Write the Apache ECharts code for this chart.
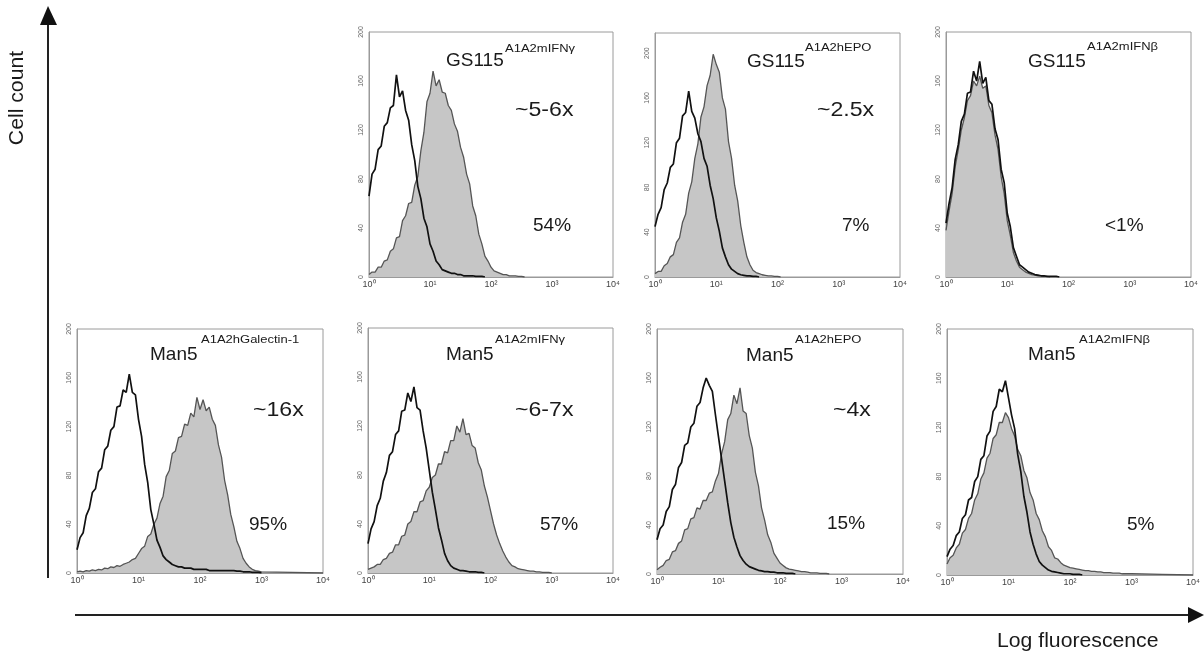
<!DOCTYPE html>
<html>
<head>
<meta charset="utf-8">
<script src="https://cdn.jsdelivr.net/npm/echarts@6/dist/echarts.min.js"></script>
<style>html,body{margin:0;padding:0;background:#fff}#c{width:1204px;height:656px}</style>
</head>
<body>
<div id="c"></div>
<script>
// ---------- DATA ----------
// bin positions in decades (log10 of fluorescence)
const logBins = [0,0.05,0.1,0.15,0.2,0.25,0.3,0.35,0.4,0.45,0.5,0.55,0.6,0.65,0.7,0.75,0.8,0.85,0.9,0.95,
  1,1.05,1.1,1.15,1.2,1.25,1.3,1.35,1.4,1.45,1.5,1.55,1.6,1.65,1.7,1.75,1.8,1.85,1.9,1.95,
  2,2.05,2.1,2.15,2.2,2.25,2.3,2.35,2.4,2.45,2.5,2.55,2.6,2.65,2.7,2.75,2.8,2.85,2.9,2.95,
  3,3.5,4];
const xTickExponents = [0,1,2,3,4];
const yTicks = [0,40,80,120,160,200];

// GS115 A1A2mIFNγ
const gsIfngControl = [66,84,88,104,107,123,126,138,140,165,147,152,136,128,108,95,74,64,48,41,
  27,21,13,10,6,5,4,3,3,2,2,1,1,1,1,0.5,0.5,0.5,0,0,
  0,0,0,0,0,0,0,0,0,0,0,0,0,0,0,0,0,0,0,0, 0,0,0];
const gsIfngSample = [2,4,4,8,8,13,14,21,23,32,33,46,50,60,61,75,82,103,118,143,
  150,168,156,161,151,150,140,136,125,119,106,98,84,76,58,50,35,27,17,13,
  8,5,4,3,2,2,1,1,1,0.5,0.5,0,0,0,0,0,0,0,0,0, 0,0,0];
// GS115 A1A2hEPO
const gsEpoControl = [45,56,62,78,84,98,101,120,124,144,147,166,148,142,128,121,106,99,82,70,
  53,41,26,18,11,7,5,3,2,1.5,1,1,0.5,0.5,0,0,0,0,0,0,
  0,0,0,0,0,0,0,0,0,0,0,0,0,0,0,0,0,0,0,0, 0,0,0];
const gsEpoSample = [3,5,5,10,12,18,20,31,35,49,56,75,85,106,119,143,152,171,180,199,
  190,183,160,150,121,106,82,68,46,31,18,11,6,4,3,2,1.5,1,1,0.5,
  0.5,0,0,0,0,0,0,0,0,0,0,0,0,0,0,0,0,0,0,0, 0,0,0];
// GS115 A1A2mIFNβ
const gsIfnbControl = [44,60,73,96,108,127,133,150,151,168,160,176,158,163,144,141,121,112,88,77,
  52,41,24,17,10,8,6,4,3,2,1.5,1,1,0.5,0.5,0.5,0.5,0,0,0,
  0,0,0,0,0,0,0,0,0,0,0,0,0,0,0,0,0,0,0,0, 0,0,0];
const gsIfnbSample = [38,54,68,90,104,120,130,144,148,160,156,164,154,156,140,134,116,104,82,68,
  46,34,20,13,8,6,4,3,2,1.5,1,1,0.5,0.5,0,0,0,0,0,0,
  0,0,0,0,0,0,0,0,0,0,0,0,0,0,0,0,0,0,0,0, 0,0,0];
// Man5 A1A2hGalectin-1
const manGalControl = [19,29,33,47,53,66,69,83,86,101,104,117,120,136,137,150,148,163,148,146,
  126,112,89,74,52,40,27,21,14,11,9,7,6,5,5,4,4,4,3,3,
  3,3,3,2,2,2,2,2,2,2,2,2,1.5,1.5,1,1,1,0.5,0.5,0.5, 0,0,0];
const manGalSample = [1,1.5,1,2,1.5,2.5,2,3,2.5,4,3.5,5,4.5,6,5.5,7,8,9,11,12,
  16,20,22,30,32,40,45,57,63,79,84,98,100,111,112,122,121,131,128,144,
  134,142,133,136,126,121,105,95,76,64,48,38,26,20,12,8,5,3,2,1.5, 1,0.5,0];
// Man5 A1A2mIFNγ
const manIfngControl = [24,36,42,55,61,75,82,96,99,113,116,132,133,147,140,152,135,133,116,102,
  84,66,52,37,27,16,10,6,4,3,2,2,1.5,1,1,1,0.5,0.5,0,0,
  0,0,0,0,0,0,0,0,0,0,0,0,0,0,0,0,0,0,0,0, 0,0,0];
const manIfngSample = [3,4,5,7,7,11,12,16,17,23,23,30,31,40,42,50,50,58,59,67,
  70,78,80,89,89,99,98,108,108,120,115,126,113,114,104,102,90,84,71,62,
  51,40,31,24,18,13,9,6,5,3.5,3,2.5,2,1.5,1.5,1,1,0.5,0.5,0.5, 0,0,0];
// Man5 A1A2hEPO
const manEpoControl = [28,37,40,51,55,69,73,87,91,105,107,120,123,137,140,152,160,154,149,130,
  112,94,76,58,42,30,22,15,11,8,6,5,4,3,2.5,2,2,1.5,1.5,1,
  1,1,0.5,0.5,0.5,0,0,0,0,0,0,0,0,0,0,0,0,0,0,0, 0,0,0];
const manEpoSample = [3.5,5.5,7,11,12,18,19,25,27,36,37,45,46,54,53,60,60,66,67,76,
  82,98,108,126,131,146,139,152,133,131,113,103,83,72,54,44,32,26,17,13,
  9,7,5,4,3.5,3,2.5,2,2,1.5,1,1,1,0.5,0.5,0.5,0,0,0,0, 0,0,0];
// Man5 A1A2mIFNβ
const manIfnbControl = [15,21,24,32,35,46,49,61,63,76,80,94,97,113,117,133,137,151,149,158,
  144,130,119,98,84,64,51,35,25,17,11,8,6,4,3,2.5,2,1.5,1,1,
  1,0.5,0.5,0.5,0,0,0,0,0,0,0,0,0,0,0,0,0,0,0,0, 0,0,0];
const manIfnbSample = [9,14,16,22,25,34,37,46,50,61,66,78,83,95,99,111,114,124,124,132,
  128,119,113,102,97,85,79,67,61,50,45,36,31,23,20,14,13,10,8,7,
  6,5.5,5,4.5,4,3.5,3.5,3,3,2.5,2.5,2,2,2,1.5,1.5,1.5,1,1,1, 1,0.5,0];

// Labels
const strainNames = ['GS115','GS115','GS115','Man5','Man5','Man5','Man5'];
const constructNames = ['A1A2mIFNγ','A1A2hEPO','A1A2mIFNβ','A1A2hGalectin-1','A1A2mIFNγ','A1A2hEPO','A1A2mIFNβ'];
const foldChanges = ['~5-6x','~2.5x','','~16x','~6-7x','~4x',''];
const percentPositive = ['54%','7%','<1%','95%','57%','15%','5%'];
const yMaxes = [200,218,200,200,200,200,200];
const yAxisTitle = 'Cell count';
const xAxisTitle = 'Log fluorescence';

// ---------- LAYOUT ----------
const panels = [
  {ctrl: gsIfngControl, smp: gsIfngSample, grid:{left:369, top:32, width:244, height:245},
   lab:{sx:446, sy:61, px:505, py:49, fx:515, fy:110, qx:533, qy:226}},
  {ctrl: gsEpoControl, smp: gsEpoSample, grid:{left:655, top:33, width:245, height:244},
   lab:{sx:747, sy:62, px:805, py:48, fx:817, fy:110, qx:842, qy:226}},
  {ctrl: gsIfnbControl, smp: gsIfnbSample, grid:{left:946, top:32, width:245, height:245},
   lab:{sx:1028, sy:62, px:1087, py:47, fx:0, fy:0, qx:1105, qy:226}},
  {ctrl: manGalControl, smp: manGalSample, grid:{left:77, top:329, width:246, height:244},
   lab:{sx:150, sy:355, px:201, py:340, fx:253, fy:410, qx:249, qy:525}},
  {ctrl: manIfngControl, smp: manIfngSample, grid:{left:368, top:328, width:245, height:245},
   lab:{sx:446, sy:355, px:495, py:340, fx:515, fy:410, qx:540, qy:525}},
  {ctrl: manEpoControl, smp: manEpoSample, grid:{left:657, top:329, width:246, height:245},
   lab:{sx:746, sy:356, px:795, py:340, fx:833, fy:410, qx:827, qy:524}},
  {ctrl: manIfnbControl, smp: manIfnbSample, grid:{left:947, top:329, width:246, height:246},
   lab:{sx:1028, sy:355, px:1079, py:340, fx:0, fy:0, qx:1127, qy:525}}
];

const FONT = '"Liberation Sans", Arial, Helvetica, sans-serif';
const SUP = {0:'\u2070',1:'\u00B9',2:'\u00B2',3:'\u00B3',4:'\u2074'};

function toData(vals){
  let last = 0;
  vals.forEach((v,i)=>{ if (v > 0) last = i; });
  const end = Math.min(last + 1, vals.length - 1);
  const out = [];
  for (let i = 0; i <= end; i++) out.push([Math.pow(10, logBins[i]), vals[i]]);
  return out;
}

const grids = [], xAxes = [], yAxes = [], series = [], graphics = [];
panels.forEach((p, k) => {
  grids.push(Object.assign({show:true, borderColor:'#9a9a9a', borderWidth:1, backgroundColor:'transparent'}, p.grid));
  xAxes.push({
    type:'log', logBase:10, gridIndex:k, min:Math.pow(10, xTickExponents[0]), max:Math.pow(10, xTickExponents[xTickExponents.length-1]),
    axisLine:{show:true, lineStyle:{color:'#9a9a9a', width:1}},
    axisTick:{show:false}, splitLine:{show:false}, minorTick:{show:false},
    axisLabel:{show:true, margin:3, fontSize:9, color:'#444', fontFamily:FONT,
      formatter: v => '10' + SUP[Math.round(Math.log10(v))]}
  });
  yAxes.push({
    type:'value', gridIndex:k, min:yTicks[0], max:yMaxes[k], interval:yTicks[1]-yTicks[0],
    axisLine:{show:true, lineStyle:{color:'#9a9a9a', width:1}},
    axisTick:{show:false}, splitLine:{show:false},
    axisLabel:{show:true, rotate:90, margin:4, fontSize:7, color:'#666', fontFamily:FONT,
      showMaxLabel: yMaxes[k] === yTicks[yTicks.length-1] ? true : false,
      formatter: v => (yTicks.indexOf(v) >= 0 ? String(v) : '')}
  });
  series.push({
    type:'line', xAxisIndex:k, yAxisIndex:k, data:toData(p.smp), showSymbol:false, symbol:'none',
    lineStyle:{color:'#555', width:1.3}, areaStyle:{color:'#c6c6c6', opacity:1}, z:2, silent:true
  });
  series.push({
    type:'line', xAxisIndex:k, yAxisIndex:k, data:toData(p.ctrl), showSymbol:false, symbol:'none',
    lineStyle:{color:'#111', width:1.7}, z:3, silent:true
  });
  const L = p.lab;
  graphics.push({type:'text', x:L.sx, y:L.sy, z:10,
    style:{text:strainNames[k], font:'19px ' + FONT, fill:'#1a1a1a', textAlign:'left', textVerticalAlign:'middle', align:'left', verticalAlign:'middle'}});
  graphics.push({type:'text', x:L.px, y:L.py, scaleX:1.3, z:10,
    style:{text:constructNames[k], font:'10px ' + FONT, fill:'#1a1a1a', textAlign:'left', textVerticalAlign:'middle', align:'left', verticalAlign:'middle'}});
  if (foldChanges[k]) graphics.push({type:'text', x:L.fx, y:L.fy, scaleX:1.1, z:10,
    style:{text:foldChanges[k], font:'21px ' + FONT, fill:'#1a1a1a', textAlign:'left', textVerticalAlign:'middle', align:'left', verticalAlign:'middle'}});
  graphics.push({type:'text', x:L.qx, y:L.qy, z:10,
    style:{text:percentPositive[k], font:'19px ' + FONT, fill:'#1a1a1a', textAlign:'left', textVerticalAlign:'middle', align:'left', verticalAlign:'middle'}});
});

// big axis arrows and titles
graphics.push({type:'line', shape:{x1:48, y1:20, x2:48, y2:578}, style:{stroke:'#222', lineWidth:2}});
graphics.push({type:'polygon', shape:{points:[[48,6],[40,25],[57,25]]}, style:{fill:'#111'}});
graphics.push({type:'line', shape:{x1:75, y1:615, x2:1192, y2:615}, style:{stroke:'#222', lineWidth:2}});
graphics.push({type:'polygon', shape:{points:[[1204,615],[1188,607],[1188,623]]}, style:{fill:'#111'}});
graphics.push({type:'text', x:17, y:98, rotation:Math.PI/2, scaleX:1.06,
  style:{text:yAxisTitle, font:'20px ' + FONT, fill:'#1a1a1a', textAlign:'center', textVerticalAlign:'middle', align:'center', verticalAlign:'middle'}});
graphics.push({type:'text', x:997, y:641, scaleX:1.06,
  style:{text:xAxisTitle, font:'20px ' + FONT, fill:'#1a1a1a', textAlign:'left', textVerticalAlign:'middle', align:'left', verticalAlign:'middle'}});

const chart = echarts.init(document.getElementById('c'), null, {renderer:'canvas'});
chart.setOption({
  animation:false,
  backgroundColor:'#ffffff',
  grid:grids, xAxis:xAxes, yAxis:yAxes, series:series, graphic:graphics
});
</script>
</body>
</html>
